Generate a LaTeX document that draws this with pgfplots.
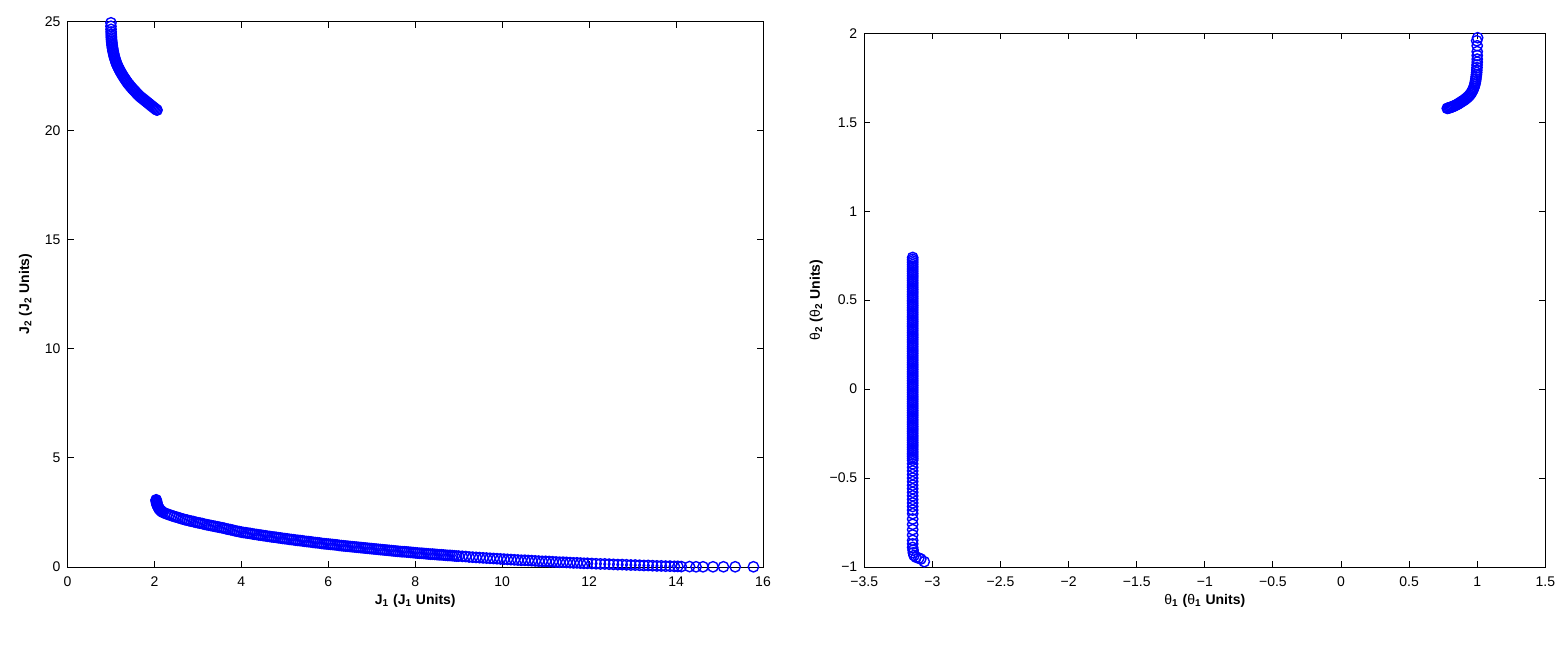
\documentclass[border=0pt]{standalone}
\usepackage{fontspec}
\setmainfont{Liberation Sans}
\usepackage{pgfplots}
\pgfplotsset{compat=1.18}
\pgfplotsset{
  mstyle/.style={
    scale only axis, clip=false, anchor=south west,
    axis line style={black, line width=0.5pt},
    tick style={black, line width=0.5pt},
    major tick length=3pt, tick align=inside,
    /pgf/number format/assume math mode=true,
    tick label style={font=\fontsize{7}{8.4}\selectfont, black},
    label style={font=\fontsize{7}{8.4}\selectfont\bfseries, black},
    xticklabel style={yshift=-1.5pt},
  },
  bo/.style={only marks, mark=o, mark size=2.6pt, blue, mark options={line width=0.7pt, blue}},
}
\begin{document}
\begin{tikzpicture}[font=\fontsize{7}{8.4}\selectfont]
\useasboundingbox (0pt,0pt) rectangle (778pt,322pt);
\begin{axis}[mstyle, at={(33.75pt,38.5pt)}, width=347.75pt, height=272.75pt,
  xmin=0, xmax=16, ymin=0, ymax=25,
  xtick={0,2,4,6,8,10,12,14,16}, ytick={0,5,10,15,20,25},
  xlabel={J\textsubscript{1} (J\textsubscript{1} Units)},
  ylabel={J\textsubscript{2} (J\textsubscript{2} Units)},
  xlabel style={at={(axis description cs:0.5,-0.0623)}, anchor=center},
  ylabel style={at={(axis description cs:-0.0604,0.5)}, anchor=center},
]
% upper branch
\addplot[bo] table {
1.000 24.94
1.000 24.78
1.002 24.64
1.004 24.52
1.006 24.42
1.008 24.33
1.010 24.25
1.013 24.17
1.016 24.10
1.020 24.03
1.024 23.96
1.028 23.89
1.033 23.82
1.038 23.76
1.044 23.69
1.050 23.63
1.057 23.56
1.064 23.50
1.072 23.43
1.080 23.37
1.090 23.30
1.100 23.24
1.110 23.18
1.121 23.11
1.133 23.05
1.146 22.99
1.160 22.93
1.175 22.87
1.190 22.81
1.206 22.75
1.222 22.69
1.240 22.63
1.258 22.57
1.276 22.51
1.295 22.45
1.315 22.39
1.335 22.33
1.355 22.27
1.376 22.21
1.398 22.15
1.420 22.10
1.443 22.04
1.466 21.99
1.490 21.93
1.514 21.88
1.538 21.83
1.563 21.78
1.588 21.72
1.613 21.67
1.638 21.62
1.663 21.57
1.688 21.53
1.713 21.49
1.738 21.45
1.763 21.41
1.788 21.37
1.813 21.33
1.838 21.29
1.863 21.25
1.888 21.21
1.913 21.17
1.938 21.13
1.963 21.09
1.988 21.05
2.013 21.01
2.038 20.97
2.060 20.94
};
% lower branch
\addplot[bo] table {
2.04 3.08
2.04 3.05
2.045 3.02
2.05 2.98
2.05 2.94
2.055 2.90
2.06 2.86
2.07 2.82
2.08 2.78
2.09 2.74
2.10 2.70
2.11 2.66
2.13 2.62
2.15 2.58
2.17 2.54
2.20 2.50
2.25 2.46
2.30 2.42
2.35 2.39
2.40 2.35
2.45 2.32
2.50 2.29
2.55 2.26
2.60 2.23
2.65 2.20
2.70 2.17
2.75 2.15
2.80 2.12
2.85 2.10
2.90 2.08
2.95 2.05
3.00 2.03
3.05 2.01
3.10 1.99
3.15 1.96
3.20 1.94
3.25 1.92
3.30 1.90
3.35 1.88
3.40 1.86
3.45 1.84
3.50 1.82
3.55 1.80
3.60 1.78
3.65 1.75
3.70 1.73
3.75 1.71
3.80 1.69
3.85 1.66
3.90 1.64
3.95 1.62
4.00 1.60
4.05 1.58
4.10 1.57
4.15 1.55
4.20 1.54
4.25 1.52
4.30 1.50
4.35 1.49
4.40 1.47
4.45 1.46
4.50 1.44
4.55 1.43
4.60 1.41
4.65 1.40
4.70 1.38
4.75 1.37
4.80 1.36
4.85 1.34
4.90 1.33
4.95 1.31
5.00 1.30
5.05 1.29
5.10 1.27
5.15 1.26
5.20 1.25
5.25 1.23
5.30 1.22
5.35 1.21
5.40 1.20
5.45 1.18
5.50 1.17
5.55 1.16
5.60 1.15
5.65 1.13
5.70 1.12
5.75 1.11
5.80 1.10
5.85 1.08
5.90 1.07
5.95 1.06
6.00 1.05
6.05 1.04
6.10 1.03
6.15 1.02
6.20 1.01
6.25 0.99
6.30 0.98
6.35 0.97
6.40 0.96
6.45 0.95
6.50 0.94
6.55 0.93
6.60 0.92
6.65 0.91
6.70 0.90
6.75 0.89
6.80 0.88
6.85 0.87
6.90 0.86
6.95 0.85
7.00 0.84
7.05 0.83
7.10 0.82
7.15 0.81
7.20 0.80
7.25 0.79
7.30 0.78
7.35 0.77
7.40 0.76
7.45 0.75
7.50 0.74
7.55 0.73
7.60 0.72
7.65 0.71
7.70 0.70
7.75 0.70
7.80 0.69
7.85 0.68
7.90 0.67
7.95 0.66
8.00 0.65
8.05 0.64
8.10 0.63
8.15 0.63
8.20 0.62
8.25 0.61
8.30 0.60
8.35 0.59
8.40 0.59
8.45 0.58
8.50 0.57
8.55 0.56
8.60 0.56
8.65 0.55
8.70 0.54
8.75 0.53
8.80 0.53
8.85 0.52
8.90 0.51
8.95 0.50
9.00 0.50
9.08 0.49
9.16 0.48
9.24 0.46
9.32 0.45
9.40 0.44
9.48 0.43
9.56 0.42
9.64 0.41
9.72 0.40
9.80 0.39
9.88 0.38
9.96 0.37
10.04 0.36
10.12 0.35
10.20 0.34
10.28 0.33
10.36 0.32
10.44 0.31
10.52 0.31
10.60 0.30
10.68 0.29
10.76 0.28
10.84 0.27
10.92 0.26
11.00 0.26
11.08 0.25
11.16 0.24
11.24 0.23
11.32 0.22
11.40 0.22
11.48 0.21
11.56 0.20
11.64 0.19
11.72 0.19
11.80 0.18
11.88 0.17
11.96 0.17
12.06 0.16
12.16 0.15
12.26 0.14
12.36 0.14
12.46 0.13
12.56 0.12
12.66 0.11
12.76 0.11
12.86 0.10
12.96 0.09
13.06 0.09
13.16 0.08
13.26 0.07
13.36 0.07
13.46 0.06
13.56 0.05
13.66 0.05
13.76 0.04
13.86 0.04
13.96 0.03
14.04 0.03
14.12 0.02
14.31 0.02
14.46 0.01
14.62 0.01
14.85 0.01
15.09 0.01
15.36 0.01
15.78 0.01
};
\end{axis}
\begin{axis}[mstyle, at={(432.15pt,38.5pt)}, width=340.5pt, height=266.85pt,
  xmin=-3.5, xmax=1.5, ymin=-1, ymax=2,
  xtick={-3.5,-3,-2.5,-2,-1.5,-1,-0.5,0,0.5,1,1.5},
  xticklabels={−3.5,−3,−2.5,−2,−1.5,−1,−0.5,0,0.5,1,1.5},
  ytick={-1,-0.5,0,0.5,1,1.5,2},
  yticklabels={−1,−0.5,0,0.5,1,1.5,2},
  xlabel={{\mdseries θ}\textsubscript{1} ({\mdseries θ}\textsubscript{1} Units)},
  ylabel={{\mdseries θ}\textsubscript{2} ({\mdseries θ}\textsubscript{2} Units)},
  xlabel style={at={(axis description cs:0.5,-0.0637)}, anchor=center},
  ylabel style={at={(axis description cs:-0.0705,0.5)}, anchor=center},
]
\addplot[bo] table {
-3.145 0.74
-3.145 0.73
-3.145 0.72
-3.145 0.71
-3.145 0.70
-3.145 0.69
-3.145 0.68
-3.145 0.67
-3.145 0.66
-3.145 0.65
-3.145 0.64
-3.145 0.63
-3.145 0.62
-3.145 0.61
-3.145 0.60
-3.145 0.59
-3.145 0.58
-3.145 0.57
-3.145 0.56
-3.145 0.55
-3.145 0.54
-3.145 0.53
-3.145 0.52
-3.145 0.51
-3.145 0.50
-3.145 0.49
-3.145 0.48
-3.145 0.47
-3.145 0.46
-3.145 0.45
-3.145 0.44
-3.145 0.43
-3.145 0.42
-3.145 0.41
-3.145 0.40
-3.145 0.39
-3.145 0.38
-3.145 0.37
-3.145 0.36
-3.145 0.35
-3.145 0.34
-3.145 0.33
-3.145 0.32
-3.145 0.31
-3.145 0.30
-3.145 0.29
-3.145 0.28
-3.145 0.27
-3.145 0.26
-3.145 0.25
-3.145 0.24
-3.145 0.23
-3.145 0.22
-3.145 0.21
-3.145 0.20
-3.145 0.19
-3.145 0.18
-3.145 0.17
-3.145 0.16
-3.145 0.15
-3.145 0.14
-3.145 0.13
-3.145 0.12
-3.145 0.11
-3.145 0.10
-3.145 0.09
-3.145 0.08
-3.145 0.07
-3.145 0.06
-3.145 0.05
-3.145 0.04
-3.145 0.03
-3.145 0.02
-3.145 0.01
-3.145 0.00
-3.145 -0.01
-3.145 -0.02
-3.145 -0.03
-3.145 -0.04
-3.145 -0.05
-3.145 -0.06
-3.145 -0.07
-3.145 -0.08
-3.145 -0.09
-3.145 -0.10
-3.145 -0.11
-3.145 -0.12
-3.145 -0.13
-3.145 -0.14
-3.145 -0.15
-3.145 -0.16
-3.145 -0.17
-3.145 -0.18
-3.145 -0.19
-3.145 -0.20
-3.145 -0.21
-3.145 -0.22
-3.145 -0.23
-3.145 -0.24
-3.145 -0.25
-3.145 -0.26
-3.145 -0.27
-3.145 -0.28
-3.145 -0.29
-3.145 -0.30
-3.145 -0.31
-3.145 -0.32
-3.145 -0.33
-3.145 -0.34
-3.145 -0.35
-3.145 -0.36
-3.145 -0.37
-3.145 -0.38
-3.145 -0.39
-3.145 -0.40
-3.145 -0.42
-3.145 -0.44
-3.145 -0.46
-3.145 -0.48
-3.145 -0.50
-3.145 -0.52
-3.145 -0.54
-3.145 -0.56
-3.145 -0.58
-3.145 -0.60
-3.145 -0.62
-3.145 -0.64
-3.145 -0.66
-3.145 -0.68
-3.145 -0.70
-3.145 -0.73
-3.145 -0.76
-3.145 -0.79
-3.145 -0.82
-3.145 -0.85
-3.145 -0.87
-3.145 -0.89
-3.142 -0.905
-3.14 -0.92
-3.135 -0.935
-3.12 -0.945
-3.10 -0.95
-3.085 -0.955
-3.06 -0.97
};
\addplot[bo] table {
1.003 1.975
0.996 1.958
1.000 1.930
1.000 1.897
1.000 1.875
1.000 1.855
1.000 1.838
0.999 1.822
0.998 1.807
0.997 1.793
0.996 1.780
0.994 1.767
0.992 1.755
0.990 1.743
0.988 1.732
0.985 1.721
0.982 1.711
0.978 1.701
0.974 1.692
0.969 1.683
0.964 1.675
0.958 1.667
0.952 1.660
0.945 1.653
0.938 1.647
0.930 1.641
0.922 1.636
0.914 1.631
0.906 1.626
0.898 1.622
0.890 1.618
0.882 1.614
0.874 1.610
0.866 1.606
0.858 1.602
0.850 1.599
0.842 1.596
0.834 1.593
0.826 1.590
0.818 1.587
0.810 1.585
0.802 1.583
0.794 1.581
0.786 1.579
0.780 1.578
};
\end{axis}
\end{tikzpicture}
\end{document}
